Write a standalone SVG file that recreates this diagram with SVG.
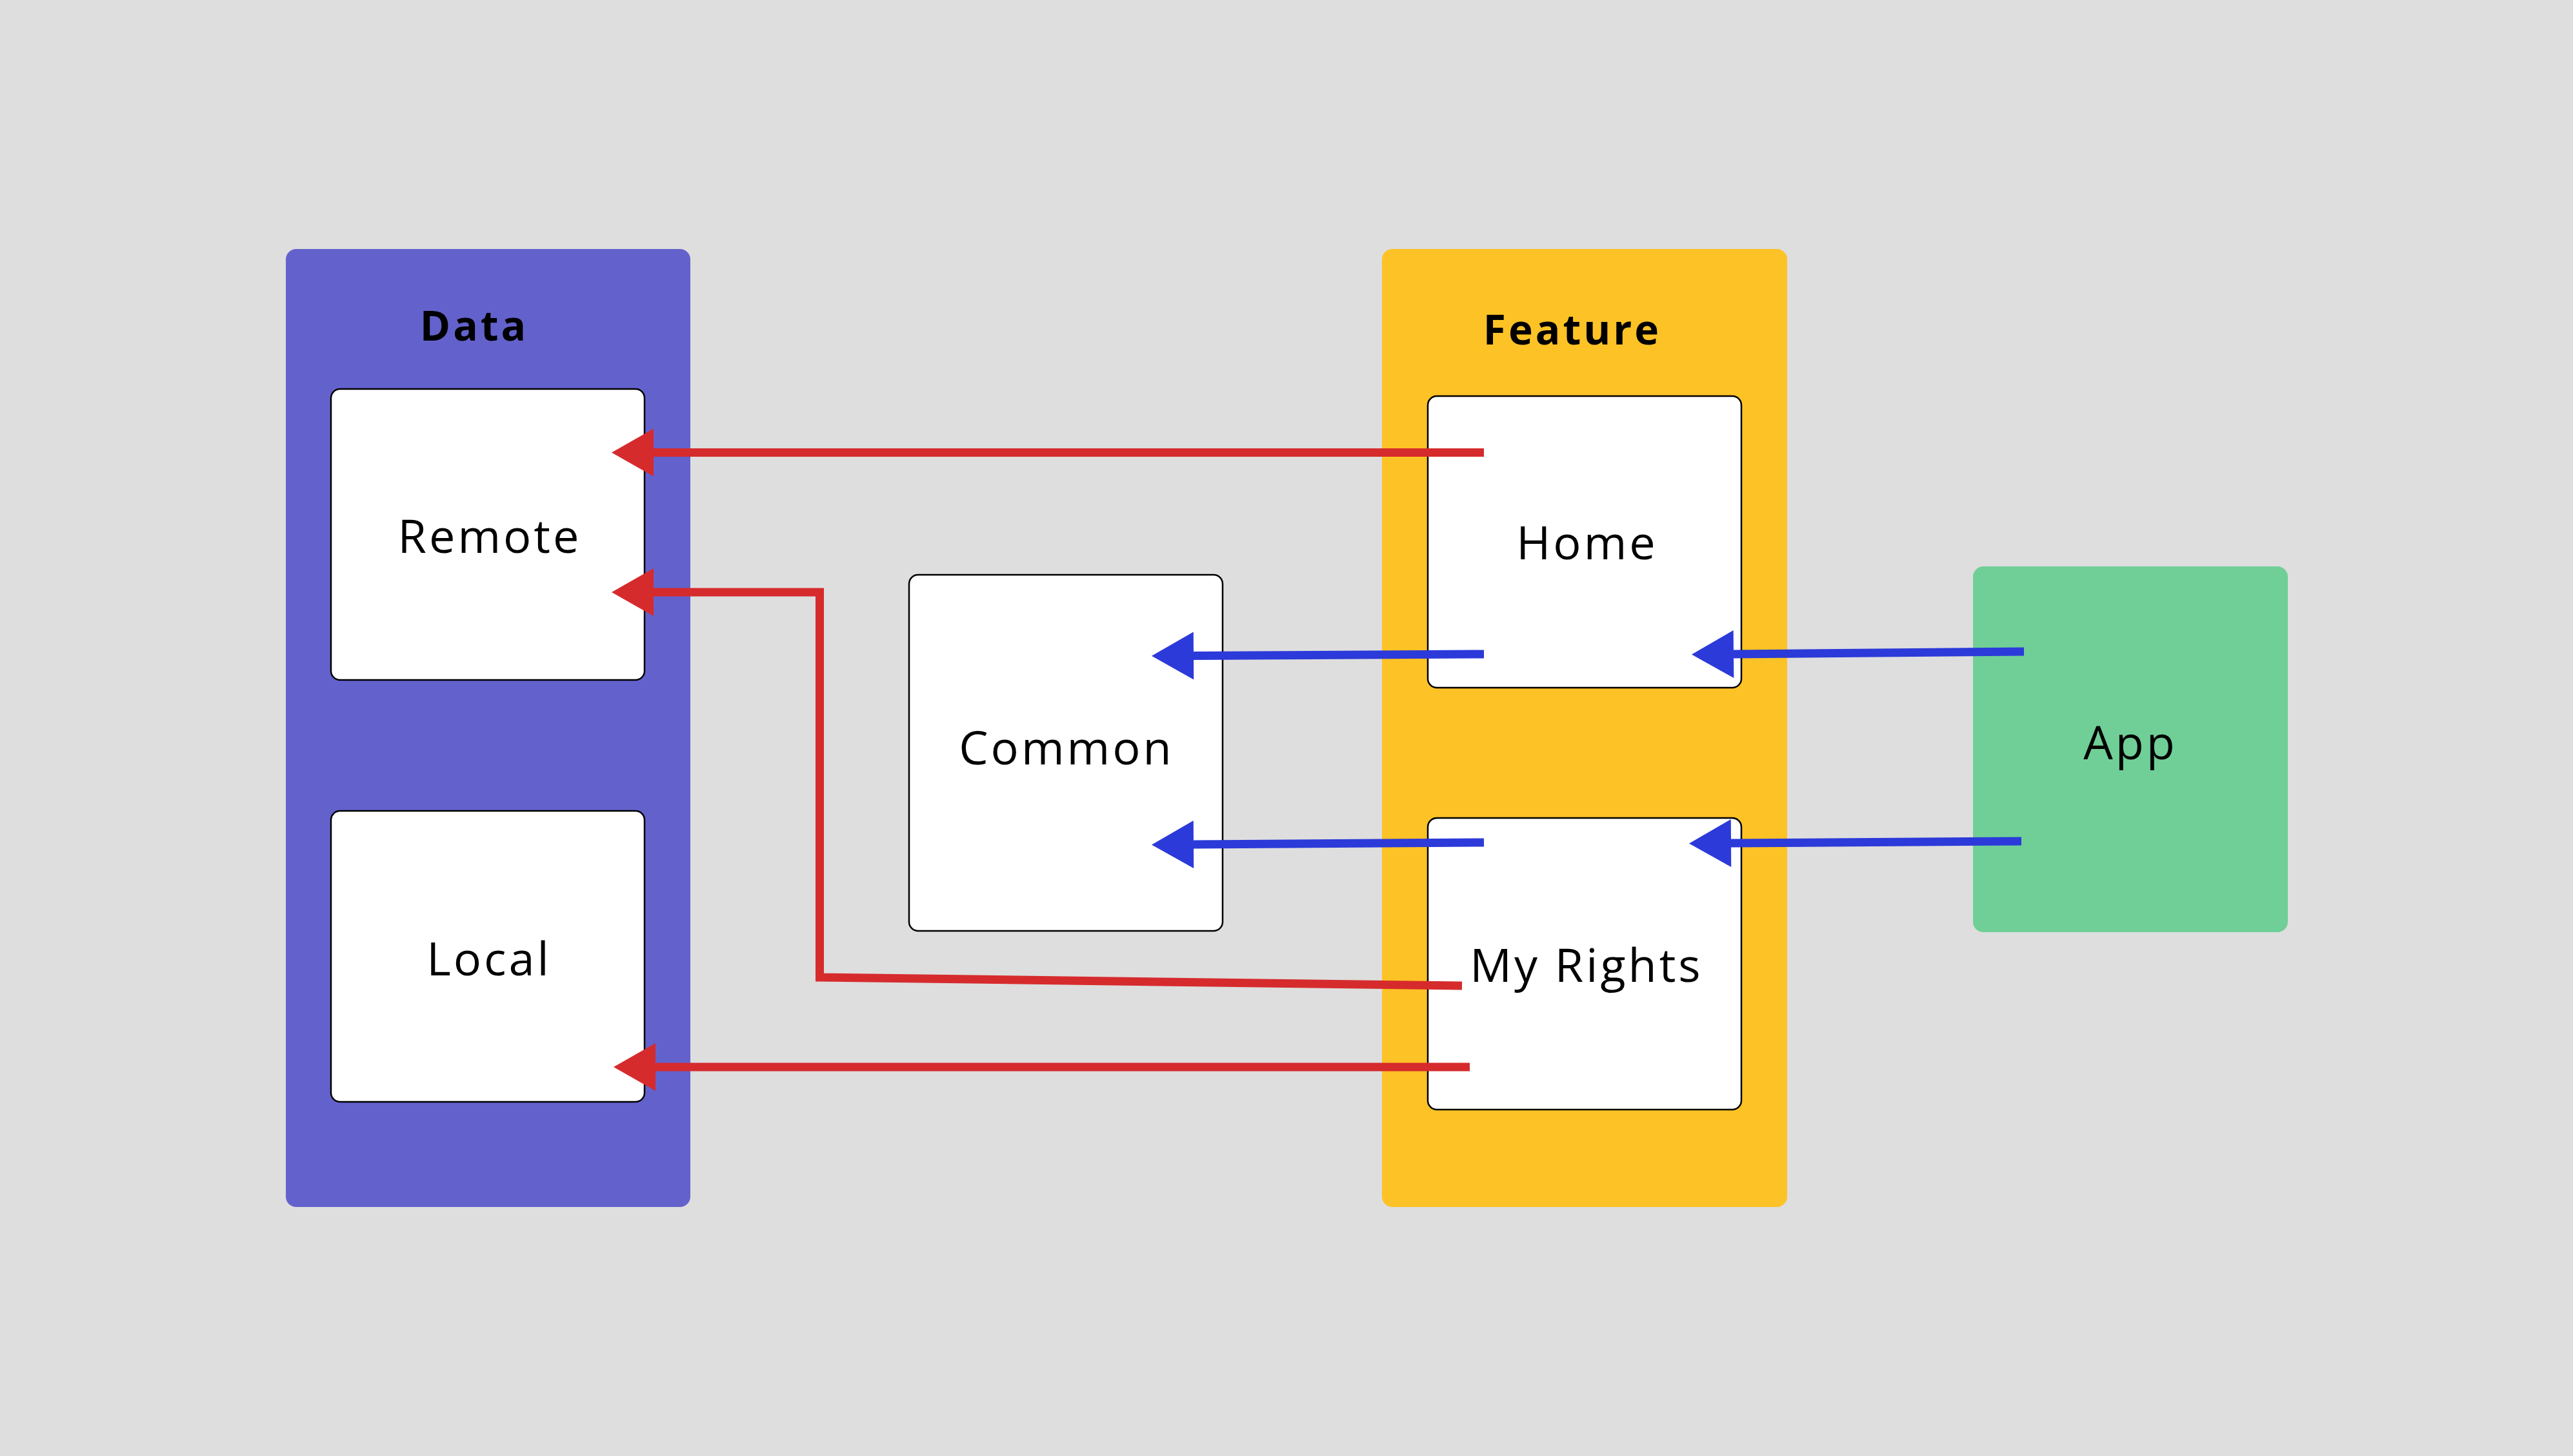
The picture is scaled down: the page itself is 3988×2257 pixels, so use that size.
<svg xmlns="http://www.w3.org/2000/svg" width="3988" height="2257" viewBox="0 0 3988 2257">
<style>
.panel-title{font-family:"Open Sans","Liberation Sans",sans-serif;font-weight:700;font-size:64px;letter-spacing:4px;fill:#000;text-anchor:middle}
.node-text{font-family:"Open Sans","Liberation Sans",sans-serif;font-size:72px;letter-spacing:4px;fill:#000;text-anchor:middle}
.box{fill:#ffffff;stroke:#000;stroke-width:2.5}
.red{fill:none;stroke:#D62B2D;stroke-width:13;stroke-linejoin:miter;marker-end:url(#ahRed)}
.blue{fill:none;stroke:#2C3AD9;stroke-width:13;marker-end:url(#ahBlue)}
</style>
<defs>
<marker id="ahRed" markerUnits="userSpaceOnUse" viewBox="0 -38 66 76" refX="0" refY="0" markerWidth="66" markerHeight="76" orient="auto" overflow="visible">
<path d="M0,-37 L65,0 L0,37 Z" fill="#D62B2D"/>
</marker>
<marker id="ahBlue" markerUnits="userSpaceOnUse" viewBox="0 -38 66 76" refX="0" refY="0" markerWidth="66" markerHeight="76" orient="auto" overflow="visible">
<path d="M0,-37 L65,0 L0,37 Z" fill="#2C3AD9"/>
</marker>
</defs>
<rect x="0" y="0" width="3988" height="2257" fill="#DEDEDE"/>
<g id="data">
<rect x="443" y="386" width="627" height="1485" rx="16" fill="#6362CC"/>
<text class="panel-title" x="735" y="528">Data</text>
</g>
<g id="feature">
<rect x="2142" y="386" width="628" height="1485" rx="16" fill="#FDC225"/>
<text class="panel-title" x="2437" y="534">Feature</text>
</g>
<g id="remote">
<rect class="box" x="513" y="603" width="486" height="451" rx="14"/>
<text class="node-text" x="759" y="857">Remote</text>
</g>
<g id="local">
<rect class="box" x="513" y="1257" width="486" height="451" rx="14"/>
<text class="node-text" x="758" y="1512">Local</text>
</g>
<g id="common">
<rect class="box" x="1409" y="891" width="486" height="552" rx="14"/>
<text class="node-text" x="1653" y="1185">Common</text>
</g>
<g id="home">
<rect class="box" x="2213" y="614" width="486" height="452" rx="14"/>
<text class="node-text" x="2460" y="867">Home</text>
</g>
<g id="myrights">
<rect class="box" x="2213" y="1268" width="486" height="452" rx="14"/>
<text class="node-text" x="2459" y="1522">My Rights</text>
</g>
<g id="app">
<rect x="3058" y="878" width="488" height="567" rx="16" fill="#70CF97"/>
<text class="node-text" x="3302" y="1177">App</text>
</g>
<g id="connectors">
<path class="red" d="M2300,701.5 L1013,701.5"/>
<path class="red" d="M2266,1528 L1270.5,1515 L1270.5,918 L1013,918"/>
<path class="red" d="M2278,1654 L1016,1654"/>
<path class="blue" d="M2300,1014 L1850,1016.5"/>
<path class="blue" d="M2300,1306 L1850,1309"/>
<path class="blue" d="M3137,1010 L2687,1014"/>
<path class="blue" d="M3133,1304 L2683,1307"/>
</g>
</svg>
